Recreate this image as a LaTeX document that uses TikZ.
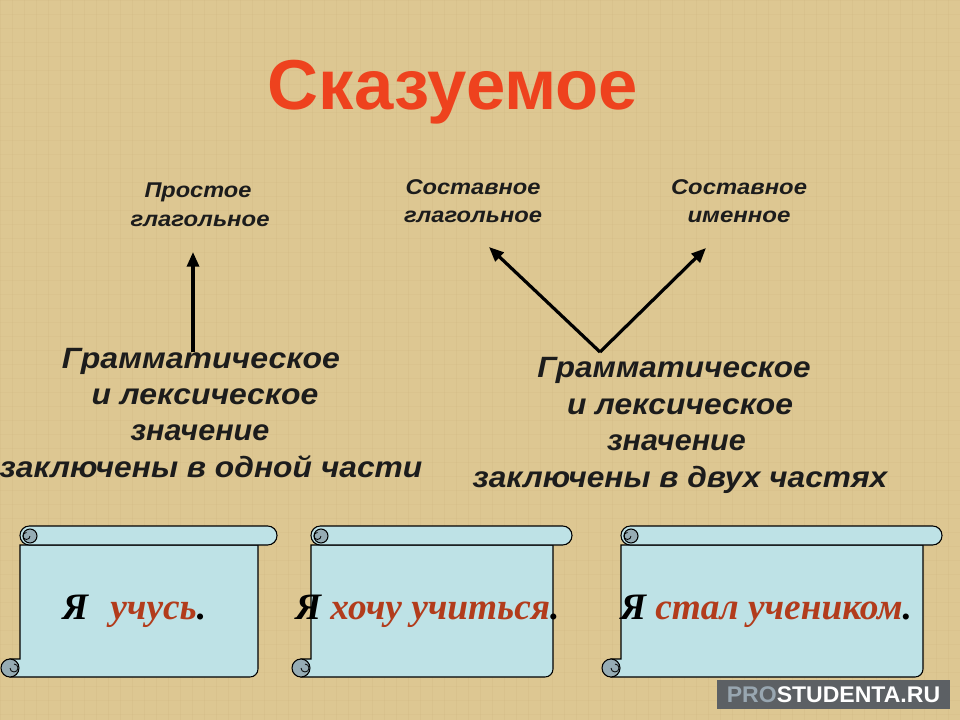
\documentclass[tikz,border=0pt]{standalone}
\usepackage{fontspec}
\setmainfont{Liberation Sans}
\newfontfamily\scrollfont{Liberation Serif}
\usetikzlibrary{arrows.meta}
\definecolor{bg}{RGB}{221,199,146}
\definecolor{bgline}{RGB}{206,182,128}
\definecolor{titlered}{RGB}{238,66,30}
\definecolor{ink}{RGB}{28,28,28}
\definecolor{scrollblue}{RGB}{190,226,230}
\definecolor{curlblue}{RGB}{150,172,180}
\definecolor{brn}{RGB}{178,60,28}
\definecolor{wmgray}{RGB}{92,96,100}
\definecolor{progray}{RGB}{152,166,176}
\newcommand\drawscroll[3]{%
  \path[draw=black,line width=0.8pt,fill=scrollblue]
    (#1,545) -- (#3,545) [rounded corners=6pt]-- (#3,677) [sharp corners]-- (#1-10,677)
    -- (#1-10,659) -- (#1,659) -- cycle;
  \draw[line width=0.8pt,fill=curlblue] (#1-10,668) circle[radius=9];
  \draw[line width=0.6pt] (#1-10,668) arc[start angle=180,end angle=-90,radius=4] ;
  \draw[line width=0.8pt,fill=scrollblue,rounded corners=7pt] (#1,526) rectangle (#2,545);
  \draw[line width=0.8pt,fill=curlblue] (#1+10,536) circle[radius=7];
  \draw[line width=0.6pt] (#1+10,536) arc[start angle=0,end angle=270,radius=3.5];
}
\begin{document}
\begin{tikzpicture}[x=0.75pt,y=-0.75pt,
  title/.style={anchor=base,text=titlered,font=\fontsize{53}{60}\selectfont\bfseries,inner sep=0},
  lbl/.style={anchor=base,text=ink,font=\fontsize{16}{19}\selectfont\bfseries\itshape,inner sep=0},
  big/.style={anchor=base,text=ink,font=\fontsize{22}{26}\selectfont\bfseries\itshape,inner sep=0},
  scr/.style={anchor=base west,text=black,font=\fontsize{28}{32}\selectfont\scrollfont\bfseries\itshape,inner sep=0},
  arr/.style={draw=black,line width=2.4pt,-{Triangle[length=11pt,width=9pt]}}]
\fill[bg] (0,0) rectangle (960,720);
\useasboundingbox (0,0) rectangle (960,720);
% faint papyrus texture
\foreach \i in {0,12,...,960} {\draw[bgline,line width=0.4pt,opacity=0.25] (\i,0) -- (\i,720);}
\foreach \j in {0,14,...,720} {\draw[bgline,line width=0.4pt,opacity=0.2] (0,\j) -- (960,\j);}

\node[title] (t) at (453,110) {Сказуемое};

\node[lbl] (p1) at (198,198) {\resizebox{80.25pt}{\height}{Простое}};
\node[lbl] (p2) at (200,227) {\resizebox{104.25pt}{\height}{глагольное}};
\node[lbl] (g1) at (473,195) {\resizebox{101.25pt}{\height}{Составное}};
\node[lbl] (g2) at (473,223) {\resizebox{103.5pt}{\height}{глагольное}};
\node[lbl] (i1) at (739,195) {\resizebox{102pt}{\height}{Составное}};
\node[lbl] (i2) at (739,223) {\resizebox{77.25pt}{\height}{именное}};

\node[big] (l1) at (201,368) {\resizebox{208.5pt}{\height}{Грамматическое}};
\node[big] (l2) at (205,404) {\resizebox{170pt}{\height}{и лексическое}};
\node[big] (l3) at (200,440) {\resizebox{104pt}{\height}{значение}};
\node[big] (l4) at (211,477) {\resizebox{317pt}{\height}{заключены в одной части}};

\node[big] (r1) at (674,377) {\resizebox{205pt}{\height}{Грамматическое}};
\node[big] (r2) at (680,414) {\resizebox{169.5pt}{\height}{и лексическое}};
\node[big] (r3) at (676.5,450) {\resizebox{104pt}{\height}{значение}};
\node[big] (r4) at (680,487) {\resizebox{311pt}{\height}{заключены в двух частях}};

\coordinate (a0) at (193,352);
\coordinate (a1) at (193,252);
\draw[arr] (a0) -- (a1);
\coordinate (v0) at (600,352);
\coordinate (v1) at (489,247);
\coordinate (v2) at (706,248);
\draw[arr] (v0) -- (v1);
\draw[arr] (v0) -- (v2);

\drawscroll{20}{277}{258}
\drawscroll{311}{572}{553}
\drawscroll{621}{942}{923}

\node[scr] (s1) at (62,619) {Я\hspace{0.6em}{\color{brn}учусь}.};
\node[scr] (s2) at (295,619) {Я {\color{brn}хочу учиться}.};
\node[scr] (s3) at (620,619) {Я {\color{brn}стал учеником}.};

\fill[wmgray] (717,680) rectangle (950,709);
\node[anchor=center,inner sep=0,text=white,font=\fontsize{17}{20}\selectfont\bfseries] (wm) at (833.5,695)
  {\resizebox{160pt}{\height}{{\color{progray}PRO}STUDENTA.RU}};
\end{tikzpicture}
\end{document}
